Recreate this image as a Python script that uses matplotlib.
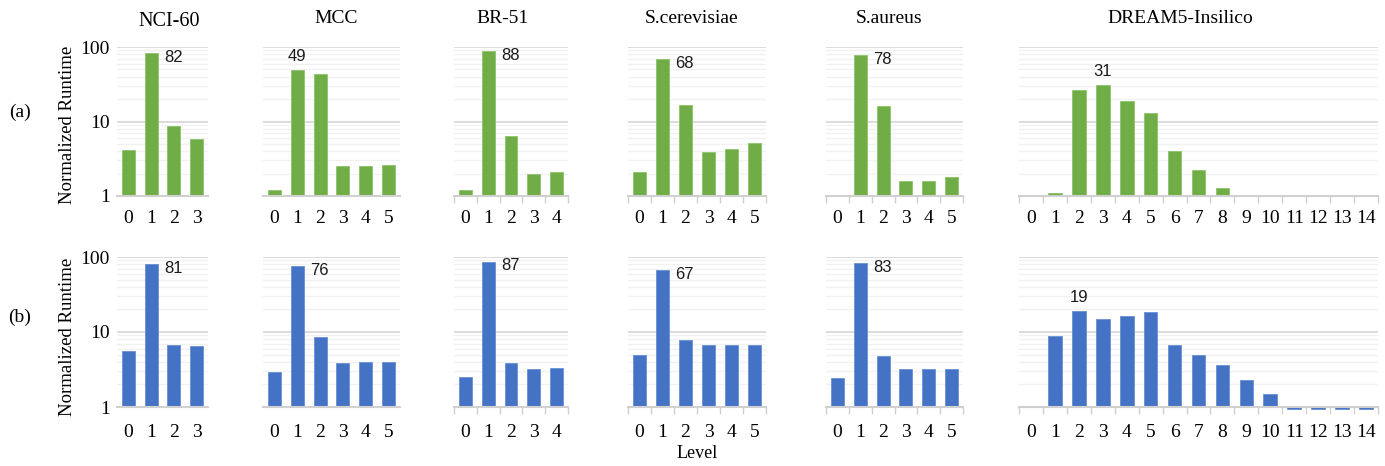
import numpy as np
import matplotlib.pyplot as plt
from matplotlib.ticker import FixedLocator, NullFormatter, FixedFormatter

# dataset panels and their level counts
datasets = ["NCI-60", "MCC", "BR-51", "S.cerevisiae", "S.aureus", "DREAM5-Insilico"]

# (a) normalized runtime per level (green row)
nci60_a = [4.2, 82, 8.7, 5.8]
mcc_a = [1.2, 49, 43, 2.5, 2.5, 2.6]
br51_a = [1.2, 88, 6.4, 1.95, 2.1]
scer_a = [2.1, 68, 16.8, 3.95, 4.3, 5.1]
saur_a = [1.0, 78, 16.3, 1.6, 1.6, 1.8]
dream5_a = [1.0, 1.1, 26.8, 31, 18.8, 12.9, 4.0, 2.2, 1.3, 1.0, 1.0, 1.0, 1.0, 1.0, 1.0]

# (b) normalized runtime per level (blue row)
nci60_b = [5.5, 81, 6.8, 6.5]
mcc_b = [2.9, 76, 8.7, 3.9, 4.0, 4.0]
br51_b = [2.5, 87, 3.9, 3.25, 3.35]
scer_b = [5.0, 67, 7.8, 6.8, 6.8, 6.8]
saur_b = [2.45, 83, 4.8, 3.2, 3.2, 3.2]
dream5_b = [1.0, 8.9, 19, 15.1, 16.1, 18.4, 6.7, 5.0, 3.6, 2.3, 1.5, 0.95, 0.95, 0.95, 0.95]

row_a = [nci60_a, mcc_a, br51_a, scer_a, saur_a, dream5_a]
row_b = [nci60_b, mcc_b, br51_b, scer_b, saur_b, dream5_b]

W, H = 1385, 466
fig = plt.figure(figsize=(W / 100, H / 100), dpi=100)

serif = "Liberation Serif"
sans = "Liberation Sans"

# pixel layout of the panels
panel_x = [(117, 208), (263, 400), (454, 568), (628, 766), (826, 963), (1019, 1378)]
row_y = [(47, 196), (257, 407)]
title_x = [169, 336, 503, 692, 889, 1180]
boundary_ticks = [False, False, True, True, True, True]

rows = [
    (row_a, "#70AD47", "#8cc46a", ["right", "above", "right", "right", "right", "above"]),
    (row_b, "#4472C4", "#6a8fd3", ["right", "right", "right", "right", "right", "above"]),
]

for r, (row_vals, color, edge, modes) in enumerate(rows):
    yt, yb = row_y[r]
    for p, vals in enumerate(row_vals):
        x0, x1 = panel_x[p]
        ax = fig.add_axes([x0 / W, 1 - yb / H, (x1 - x0) / W, (yb - yt) / H])
        ax.set_yscale("log")
        n = len(vals)
        xs = np.arange(n)
        v = np.array(vals)
        ax.bar(xs, v - 1, bottom=1, width=0.57, color=color, edgecolor=edge,
               linewidth=0.6, clip_on=False, zorder=3)
        ax.set_ylim(1, 100)
        ax.set_xlim(-0.5, n - 0.5)

        # grid
        ax.set_axisbelow(True)
        ax.yaxis.set_major_locator(FixedLocator([1, 10, 100]))
        minors = [m * d for d in (1, 10) for m in range(2, 10)]
        ax.yaxis.set_minor_locator(FixedLocator(minors))
        ax.yaxis.set_minor_formatter(NullFormatter())
        ax.grid(True, axis="y", which="major", color="#d9d9d9", lw=1.3)
        ax.grid(True, axis="y", which="minor", color="#f1f1f1", lw=1.0)
        if p == 0:
            ax.yaxis.set_major_formatter(FixedFormatter(["1", "10", "100"]))
        else:
            ax.yaxis.set_major_formatter(NullFormatter())
        ax.tick_params(axis="y", which="both", length=0, pad=5, labelsize=14)
        for lab in ax.get_yticklabels():
            lab.set_fontfamily(serif)

        for s in ("top", "left", "right"):
            ax.spines[s].set_visible(False)
        ax.spines["bottom"].set_color("#d0d0d0")
        ax.spines["bottom"].set_linewidth(1.5)
        ax.spines["bottom"].set_zorder(4)

        ax.set_xticks(xs)
        ax.set_xticklabels([str(i) for i in xs], fontfamily=serif)
        ax.tick_params(axis="x", which="major", length=0, pad=10 if r == 0 else 12, labelsize=14)
        if boundary_ticks[p]:
            ax.set_xticks(np.arange(n + 1) - 0.5, minor=True)
            ax.tick_params(axis="x", which="minor", length=5, width=1, color="#d0d0d0")
        else:
            ax.tick_params(axis="x", which="minor", length=0)

        # peak label
        i = int(np.argmax(v))
        if modes[p] == "right":
            off = (16, -3)
        else:
            off = (0, 10)
        ax.annotate(f"{v[i]:g}", xy=(i, v[i]), xytext=off, textcoords="offset points",
                    ha="center", va="center", fontsize=12, fontfamily=sans,
                    color="#1a1a1a", annotation_clip=False)

        if r == 0:
            ty = 26 if p == 0 else 23
            fig.text(title_x[p] / W, 1 - ty / H, datasets[p], ha="center", va="baseline",
                     fontsize=14.5 if p == 0 else 14, fontfamily=serif)

# row labels and axis labels
fig.text(19.5 / W, 1 - 112 / H, "(a)", ha="center", va="center", fontsize=14, fontfamily=serif)
fig.text(20 / W, 1 - 317 / H, "(b)", ha="center", va="center", fontsize=14, fontfamily=serif)
fig.text(67 / W, 1 - 125 / H, "Normalized Runtime", rotation=90, ha="center", va="center",
         fontsize=13.5, fontfamily=serif)
fig.text(67 / W, 1 - 337 / H, "Normalized Runtime", rotation=90, ha="center", va="center",
         fontsize=13.5, fontfamily=serif)
fig.text(697 / W, 1 - 453 / H, "Level", ha="center", va="center", fontsize=13, fontfamily=serif)

fig.savefig("out.png", dpi=100)
